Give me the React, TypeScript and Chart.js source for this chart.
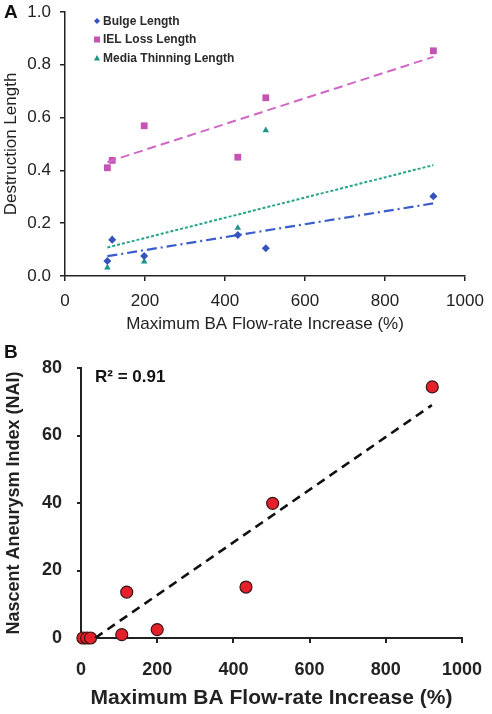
import React, { useEffect, useRef } from "react";
import { Chart, registerables } from "chart.js";

Chart.register(...registerables);

// ---------- Panel A data ----------
const flowA = [106, 118, 198, 432, 502, 921];
const bulgeLength = [0.057, 0.137, 0.076, 0.155, 0.105, 0.302];
const ielLossLength = [0.41, 0.438, 0.569, 0.45, 0.675, 0.853];
const mediaThinningLength = [0.032, 0.14, 0.055, 0.182, 0.552, 0.303];
const trendXA = [106, 921];
const bulgeTrend = [0.075, 0.275];
const ielTrend = [0.432, 0.83];
const mediaTrend = [0.108, 0.42];
const seriesNamesA = ["Bulge Length", "IEL Loss Length", "Media Thinning Length"];

// ---------- Panel B data ----------
const flowB = [5, 15, 25, 107, 120, 200, 433, 503, 922];
const naiValues = [0, 0, 0, 1.0, 13.6, 2.5, 15.1, 39.9, 74.4];
const trendXB = [37, 921];
const naiTrend = [0, 69];

// ---------- ticks ----------
const xTicks = [0, 200, 400, 600, 800, 1000];
const yTicksA = [0, 0.2, 0.4, 0.6, 0.8, 1.0];
const yTicksB = [0, 20, 40, 60, 80];

const FAMILY = "'Liberation Sans', Arial, Helvetica, sans-serif";
const INK = "#222222";
const BLUE = "#3552bd";
const MAGENTA = "#c553b3";
const TEAL = "#1d9484";

const pts = (xs: number[], ys: number[]) => xs.map((x, i) => ({ x, y: ys[i] }));

const setTicks = (vals: number[]) => (scale: any) => {
  scale.ticks = vals.map((v) => ({ value: v }));
};

const fixSize = (dim: "width" | "height", size: number) => (s: any) => {
  s[dim] = size;
  s.paddingTop = 0;
  s.paddingBottom = 0;
  s.paddingLeft = 0;
  s.paddingRight = 0;
};

function drawMarker(ctx: CanvasRenderingContext2D, style: string, x: number, y: number, r: number, color: string) {
  ctx.save();
  ctx.fillStyle = color;
  ctx.beginPath();
  if (style === "rectRot") {
    ctx.moveTo(x, y - r);
    ctx.lineTo(x + r, y);
    ctx.lineTo(x, y + r);
    ctx.lineTo(x - r, y);
  } else if (style === "rect") {
    ctx.rect(x - r, y - r, 2 * r, 2 * r);
  } else {
    ctx.moveTo(x, y - r);
    ctx.lineTo(x + r, y + r * 0.8);
    ctx.lineTo(x - r, y + r * 0.8);
  }
  ctx.closePath();
  ctx.fill();
  ctx.restore();
}

const panelAOverlay = {
  id: "panelAOverlay",
  afterDraw(chart: any) {
    const ctx: CanvasRenderingContext2D = chart.ctx;
    ctx.save();
    ctx.fillStyle = "#111";
    ctx.font = `bold 19px ${FAMILY}`;
    ctx.textAlign = "left";
    ctx.textBaseline = "middle";
    ctx.fillText("A", 4, 13);
    // legend
    const rows = [21, 39.5, 58];
    const styles = ["rectRot", "rect", "triangle"];
    const colors = [BLUE, MAGENTA, TEAL];
    const sizes = [3, 3, 3];
    ctx.font = `bold 12px ${FAMILY}`;
    seriesNamesA.forEach((name, i) => {
      drawMarker(ctx, styles[i], 97, rows[i], sizes[i], colors[i]);
      ctx.fillStyle = "#2a2a2a";
      ctx.fillText(name, 103, rows[i] + 0.5);
    });
    ctx.restore();
  },
};

const panelBOverlay = {
  id: "panelBOverlay",
  afterDraw(chart: any) {
    const ctx: CanvasRenderingContext2D = chart.ctx;
    ctx.save();
    ctx.fillStyle = "#111";
    ctx.textAlign = "left";
    ctx.textBaseline = "middle";
    ctx.font = `bold 19px ${FAMILY}`;
    ctx.fillText("B", 4, 13);
    ctx.font = `bold 17px ${FAMILY}`;
    ctx.fillText("R\u00B2 = 0.91", 95, 37);
    ctx.restore();
  },
};

function PanelA() {
  const ref = useRef<HTMLCanvasElement>(null);
  useEffect(() => {
    if (!ref.current) return;
    const chart = new Chart(ref.current, {
      type: "scatter",
      data: {
        datasets: [
          {
            type: "line",
            label: "Bulge trend",
            data: pts(trendXA, bulgeTrend),
            borderColor: "#3a5ccc",
            borderWidth: 2.2,
            borderDash: [10, 4, 2, 4],
            pointRadius: 0,
            fill: false,
          },
          {
            type: "line",
            label: "IEL trend",
            data: pts(trendXA, ielTrend),
            borderColor: "#d066c6",
            borderWidth: 2,
            borderDash: [9, 5],
            pointRadius: 0,
            fill: false,
          },
          {
            type: "line",
            label: "Media trend",
            data: pts(trendXA, mediaTrend),
            borderColor: "#25a58c",
            borderWidth: 2,
            borderDash: [3, 2],
            pointRadius: 0,
            fill: false,
          },
          {
            label: seriesNamesA[0],
            data: pts(flowA, bulgeLength),
            pointStyle: "rectRot",
            pointRadius: 4,
            backgroundColor: BLUE,
            borderColor: BLUE,
            borderWidth: 0,
          },
          {
            label: seriesNamesA[1],
            data: pts(flowA, ielLossLength),
            pointStyle: "rect",
            pointRadius: 4.8,
            backgroundColor: MAGENTA,
            borderColor: MAGENTA,
            borderWidth: 0,
          },
          {
            label: seriesNamesA[2],
            data: pts(flowA, mediaThinningLength),
            pointStyle: "triangle",
            pointRadius: 3.8,
            backgroundColor: TEAL,
            borderColor: TEAL,
            borderWidth: 0,
          },
        ] as any,
      },
      options: {
        animation: false,
        responsive: false,
        maintainAspectRatio: false,
        events: [],
        layout: { padding: { left: 0, right: 27, top: 12, bottom: 0 } },
        plugins: { legend: { display: false }, tooltip: { enabled: false } },
        scales: {
          x: {
            type: "linear",
            min: 0,
            max: 1000,
            afterBuildTicks: setTicks(xTicks),
            afterFit: fixSize("height", 64),
            grid: {
              display: true,
              drawOnChartArea: false,
              drawTicks: true,
              tickLength: 5,
              color: INK,
              tickColor: INK,
              lineWidth: 1.5,
              tickWidth: 1.5,
            },
            border: { display: true, color: INK, width: 1.5 },
            ticks: {
              color: INK,
              font: { family: FAMILY, size: 17 },
              padding: 10,
              maxRotation: 0,
              autoSkip: false,
              callback: (v: any) => String(v),
            },
            title: {
              display: true,
              text: "Maximum BA Flow-rate Increase (%)",
              color: INK,
              font: { family: FAMILY, size: 17 },
              padding: { top: 0, bottom: 5 },
            },
          },
          y: {
            type: "linear",
            min: 0,
            max: 1,
            afterBuildTicks: setTicks(yTicksA),
            afterFit: fixSize("width", 65),
            grid: {
              display: true,
              drawOnChartArea: false,
              drawTicks: true,
              tickLength: 5,
              color: INK,
              tickColor: INK,
              lineWidth: 1.5,
              tickWidth: 1.5,
            },
            border: { display: true, color: INK, width: 1.5 },
            ticks: {
              color: INK,
              font: { family: FAMILY, size: 17 },
              padding: 9,
              callback: (v: any) => Number(v).toFixed(1),
            },
            title: {
              display: true,
              text: "Destruction Length",
              color: INK,
              font: { family: FAMILY, size: 17 },
              padding: { top: 1, bottom: 0 },
            },
          },
        },
      } as any,
      plugins: [panelAOverlay],
    });
    return () => chart.destroy();
  }, []);
  return <canvas ref={ref} width={492} height={340} style={{ display: "block", width: 492, height: 340 }} />;
}

function PanelB() {
  const ref = useRef<HTMLCanvasElement>(null);
  useEffect(() => {
    if (!ref.current) return;
    const chart = new Chart(ref.current, {
      type: "scatter",
      data: {
        datasets: [
          {
            type: "line",
            label: "Linear trend",
            data: pts(trendXB, naiTrend),
            borderColor: "#111111",
            borderWidth: 2.6,
            borderDash: [9, 6],
            pointRadius: 0,
            fill: false,
          },
          {
            label: "Nascent Aneurysm Index",
            data: pts(flowB, naiValues),
            pointStyle: "circle",
            pointRadius: 6,
            backgroundColor: "#e4212b",
            borderColor: "#3b1414",
            borderWidth: 1.2,
            clip: false,
          },
        ] as any,
      },
      options: {
        animation: false,
        responsive: false,
        maintainAspectRatio: false,
        events: [],
        layout: { padding: { left: 0, right: 30, top: 28, bottom: 0 } },
        plugins: { legend: { display: false }, tooltip: { enabled: false } },
        scales: {
          x: {
            type: "linear",
            min: 0,
            max: 1000,
            afterBuildTicks: setTicks(xTicks),
            afterFit: fixSize("height", 76),
            grid: {
              display: true,
              drawOnChartArea: false,
              drawTicks: true,
              tickLength: 5,
              color: INK,
              tickColor: INK,
              lineWidth: 2,
              tickWidth: 2,
            },
            border: { display: true, color: INK, width: 2 },
            ticks: {
              color: INK,
              font: { family: FAMILY, size: 18, weight: "bold" },
              padding: 16,
              maxRotation: 0,
              autoSkip: false,
              callback: (v: any) => String(v),
            },
            title: {
              display: true,
              text: "Maximum BA Flow-rate Increase (%)",
              color: INK,
              font: { family: FAMILY, size: 21, weight: "bold" },
              padding: { top: 0, bottom: 3 },
            },
          },
          y: {
            type: "linear",
            min: 0,
            max: 80,
            afterBuildTicks: setTicks(yTicksB),
            afterFit: fixSize("width", 81),
            grid: {
              display: true,
              drawOnChartArea: false,
              drawTicks: true,
              tickLength: 4,
              color: INK,
              tickColor: INK,
              lineWidth: 2,
              tickWidth: 2,
            },
            border: { display: true, color: INK, width: 2 },
            ticks: {
              color: INK,
              font: { family: FAMILY, size: 18, weight: "bold" },
              padding: 15,
              callback: (v: any) => String(v),
            },
            title: {
              display: true,
              text: "Nascent Aneurysm Index (NAI)",
              color: INK,
              font: { family: FAMILY, size: 18, weight: "bold" },
              padding: { top: 3, bottom: 0 },
            },
          },
        },
      } as any,
      plugins: [panelBOverlay],
    });
    return () => chart.destroy();
  }, []);
  return <canvas ref={ref} width={492} height={374} style={{ display: "block", width: 492, height: 374 }} />;
}

export default function App() {
  return (
    <div
      style={{
        position: "absolute",
        left: 0,
        top: 0,
        width: 492,
        height: 714,
        background: "#ffffff",
        overflow: "hidden",
      }}
    >
      <PanelA />
      <PanelB />
    </div>
  );
}
